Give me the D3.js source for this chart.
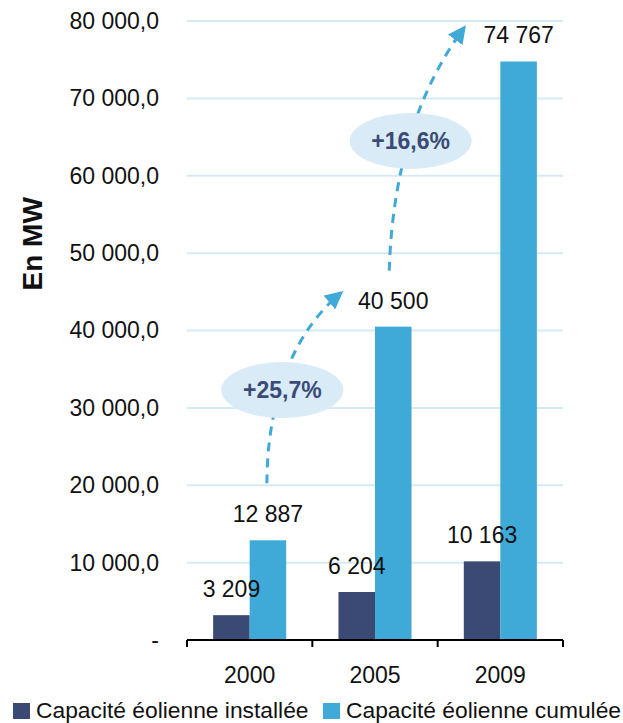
<!DOCTYPE html>
<html>
<head>
<meta charset="utf-8">
<script src="https://cdn.jsdelivr.net/npm/d3@7"></script>
<style>
  html, body { margin: 0; padding: 0; background: #fff; }
  svg { display: block; font-family: "Liberation Sans", Arial, sans-serif; }
</style>
</head>
<body>
<svg id="chart" width="623" height="723"></svg>
<script>
// Wind capacity (MW): annual installed vs cumulative
const years = ["2000", "2005", "2009"];
const installed = [3209, 6204, 10163];
const cumulative = [12887, 40500, 74767];
const yTicks = [0, 10000, 20000, 30000, 40000, 50000, 60000, 70000, 80000];
const seriesNames = ["Capacité éolienne installée", "Capacité éolienne cumulée"];
const growthLabels = ["+25,7%", "+16,6%"];
const yTitle = "En MW";

const colors = ["#3a4a74", "#3fa9d8"];
const gridColor = "#d6eaf6";
const bubbleColor = "#d8ebf6";
const bubbleText = "#3b4a77";
const FONT = "'Liberation Sans', Arial, sans-serif";

const svg = d3.select("#chart");

const fr = d3.formatLocale({ decimal: ",", thousands: "\u00a0", grouping: [3], currency: ["", "€"] });
const fmtTick = v => v === 0 ? "-" : fr.format(",.1f")(v);
const fmtVal = fr.format(",.0f");

const y = d3.scaleLinear().domain([0, 80000]).range([640, 21]);
const x0 = d3.scaleBand().domain(years).range([187, 563]).paddingInner(0.417).paddingOuter(0.2085);
const xs = d3.scaleBand().domain([0, 1]).range([0, x0.bandwidth()]);
const xCat = d3.scaleBand().domain(years).range([187, 563]);

// grid lines
svg.append("g").selectAll("line")
  .data(yTicks.filter(v => v > 0))
  .join("line")
  .attr("x1", xCat.range()[0]).attr("x2", xCat.range()[1])
  .attr("y1", d => y(d)).attr("y2", d => y(d))
  .attr("stroke", gridColor).attr("stroke-width", 2);

// y axis labels
const yAxis = d3.axisLeft(y).tickValues(yTicks).tickFormat(fmtTick).tickSize(0).tickPadding(0);
const gy = svg.append("g").attr("transform", "translate(159,0)").call(yAxis);
gy.select(".domain").remove();
gy.selectAll("text").attr("font-size", 23).attr("fill", "#111").attr("font-family", FONT);

// y title
svg.append("text")
  .attr("transform", `translate(42,${y(51200)}) rotate(-90)`)
  .attr("text-anchor", "middle")
  .attr("font-size", 28).attr("font-weight", "bold").attr("fill", "#111")
  .text(yTitle);

// bars
const rows = years.map((yr, i) => ({ year: yr, vals: [installed[i], cumulative[i]] }));
const groups = svg.append("g").selectAll("g").data(rows).join("g")
  .attr("transform", d => `translate(${x0(d.year)},0)`);
groups.selectAll("rect")
  .data(d => d.vals.map((v, k) => ({ v, k })))
  .join("rect")
  .attr("x", d => xs(d.k)).attr("width", xs.bandwidth())
  .attr("y", d => y(d.v)).attr("height", d => y(0) - y(d.v))
  .attr("fill", d => colors[d.k]);

// value labels
groups.selectAll("text.val")
  .data(d => d.vals.map((v, k) => ({ v, k })))
  .join("text").attr("class", "val")
  .attr("x", d => xs(d.k) + xs.bandwidth() / 2)
  .attr("y", d => y(d.v) - 18)
  .attr("text-anchor", "middle")
  .attr("font-size", 23).attr("fill", "#111")
  .text(d => fmtVal(d.v));

// x axis line with ticks at category boundaries
const xa = svg.append("g");
xa.append("line")
  .attr("x1", xCat.range()[0]).attr("x2", xCat.range()[1])
  .attr("y1", y(0)).attr("y2", y(0))
  .attr("stroke", "#000").attr("stroke-width", 2);
const bounds = years.map(d => xCat(d)).concat([xCat.range()[1]]);
xa.selectAll("line.tk").data(bounds).join("line").attr("class", "tk")
  .attr("x1", d => d).attr("x2", d => d)
  .attr("y1", y(0)).attr("y2", y(0) + 7)
  .attr("stroke", "#000").attr("stroke-width", 2);
xa.selectAll("text").data(years).join("text")
  .attr("x", d => xCat(d) + xCat.bandwidth() / 2)
  .attr("y", y(0) + 43)
  .attr("text-anchor", "middle")
  .attr("font-size", 23).attr("fill", "#111")
  .text(d => d);

// growth arrows
const defs = svg.append("defs");
defs.append("marker")
  .attr("id", "head").attr("viewBox", "0 0 10 10")
  .attr("refX", 8).attr("refY", 5)
  .attr("markerWidth", 6).attr("markerHeight", 6)
  .attr("markerUnits", "strokeWidth")
  .attr("orient", "auto")
  .append("path").attr("d", "M0,0 L10,5 L0,10 Z").attr("fill", colors[1]);

const cumX = i => x0(years[i]) + xs(1) + xs.bandwidth() / 2;
function preLabel(i) { return cumulative[i] + 4300; }
const arrows = [
  { from: [cumX(0) - 1, y(cumulative[0]) - 57], c1: [cumX(0) - 1, y(28000)], c2: [cumX(0) + 14, y(38500)], to: [x0(years[1]) + 2, y(preLabel(1))] },
  { from: [cumX(1) - 4, y(cumulative[1]) - 56], c1: [cumX(1) - 2, y(57000)], c2: [cumX(1) + 13, y(69000)], to: [x0(years[2]), y(preLabel(2))] }
];

svg.append("g").selectAll("path").data(arrows).join("path")
  .attr("d", d => `M${d.from} C${d.c1} ${d.c2} ${d.to}`)
  .attr("fill", "none").attr("stroke", colors[1])
  .attr("stroke-width", 3).attr("stroke-dasharray", "9,7")
  .attr("marker-end", "url(#head)");

// growth bubbles
const bubbles = [
  { cx: xCat(years[1]) - 30, cy: y(32300), label: growthLabels[0] },
  { cx: xCat(years[2]) - 27, cy: y(64500), label: growthLabels[1] }
];
const bg = svg.append("g").selectAll("g").data(bubbles).join("g")
  .attr("transform", d => `translate(${d.cx},${d.cy})`);
bg.append("ellipse").attr("rx", 61).attr("ry", 28).attr("fill", bubbleColor);
bg.append("text")
  .attr("text-anchor", "middle").attr("dy", "0.36em")
  .attr("font-size", 23).attr("font-weight", "bold").attr("fill", bubbleText)
  .text(d => d.label);

// legend
const legendX = [13, 323];
const lg = svg.append("g").selectAll("g").data(seriesNames).join("g")
  .attr("transform", (d, i) => `translate(${legendX[i]},703)`);
lg.append("rect").attr("width", 17).attr("height", 16).attr("fill", (d, i) => colors[i]);
lg.append("text").attr("x", 23).attr("y", 15)
  .attr("font-size", 22.8).attr("fill", "#111")
  .text(d => d);
</script>
</body>
</html>
